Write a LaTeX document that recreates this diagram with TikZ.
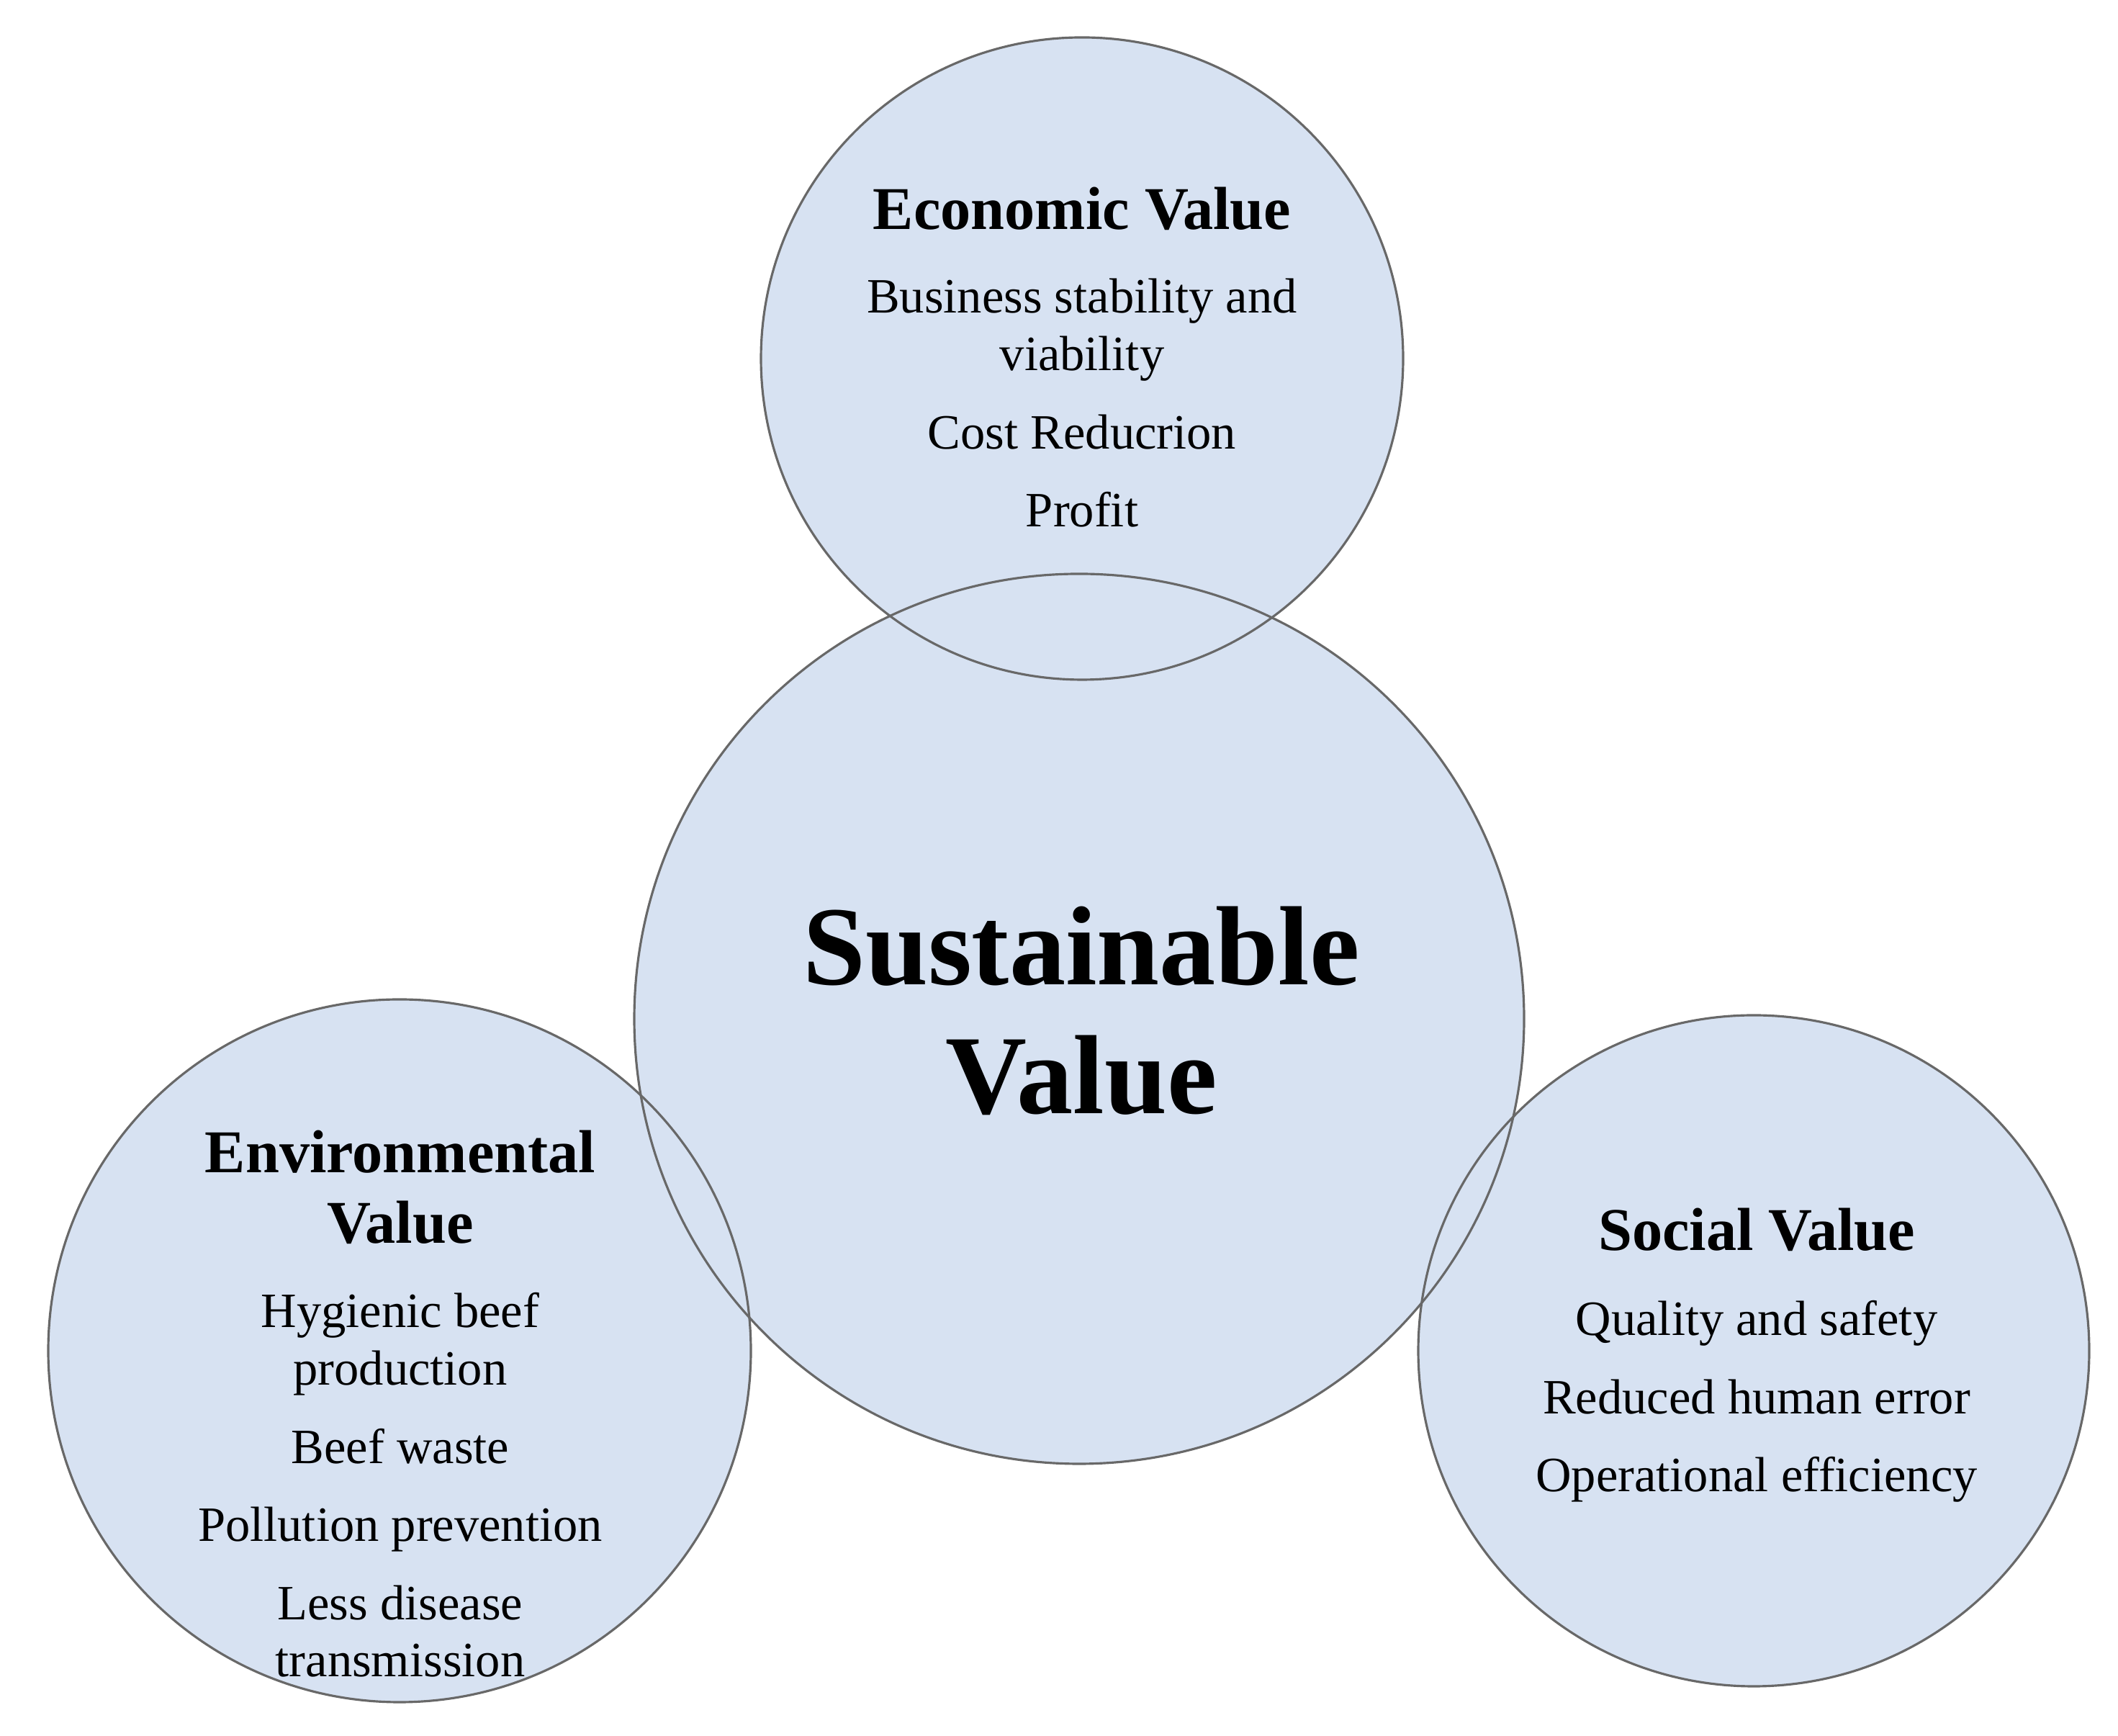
\documentclass[tikz,border=0pt]{standalone}
\usepackage{fontspec}
\setmainfont{Liberation Serif}
\definecolor{bubblefill}{RGB}{215,226,242}
\definecolor{bubbleline}{RGB}{104,104,104}
\begin{document}
\begin{tikzpicture}[
    bubble/.style={circle, fill=bubblefill, inner sep=0pt},
    rim/.style={circle, draw=bubbleline, line width=0.9pt, inner sep=0pt},
    heading/.style={anchor=base, align=center, font=\fontsize{24}{28}\selectfont\bfseries},
    items/.style={anchor=base, align=center, font=\fontsize{19.5}{22.5}\selectfont},
    core/.style={anchor=base, align=center, font=\fontsize{44.5}{51}\selectfont\bfseries}
]
\useasboundingbox (0,0) rectangle (29.42,24.11);

% Circle fills
\node[bubble, minimum size=12.36cm] (sus) at (14.99,9.96) {};
\node[bubble, minimum size=8.92cm] (eco) at (15.03,19.13) {};
\node[bubble, minimum size=9.76cm] (env) at (5.55,5.35) {};
\node[bubble, minimum size=9.32cm] (soc) at (24.36,5.35) {};

% Circle outlines (all visible over the fills)
\node[rim, minimum size=12.36cm] at (sus) {};
\node[rim, minimum size=8.92cm] at (eco) {};
\node[rim, minimum size=9.76cm] at (env) {};
\node[rim, minimum size=9.32cm] at (soc) {};

% Centre
\node[core] (sustitle) at (15.02,8.64) {Sustainable\\Value};

% Economic
\node[heading] (ecotitle) at (15.03,20.92) {Economic Value};
\node[items] (ecoitems) at (15.03,16.79) {Business stability and\\viability\\[8.5pt]Cost Reducrion\\[8.5pt]Profit};

% Environmental
\node[heading] (envtitle) at (5.56,6.84) {Environmental\\Value};
\node[items] (envitems) at (5.56,0.82) {Hygienic beef\\production\\[8.5pt]Beef waste\\[8.5pt]Pollution prevention\\[8.5pt]Less disease\\transmission};

% Social
\node[heading] (soctitle) at (24.40,6.74) {Social Value};
\node[items] (socitems) at (24.40,3.39) {Quality and safety\\[8.5pt]Reduced human error\\[8.5pt]Operational efficiency};
\end{tikzpicture}
\end{document}
